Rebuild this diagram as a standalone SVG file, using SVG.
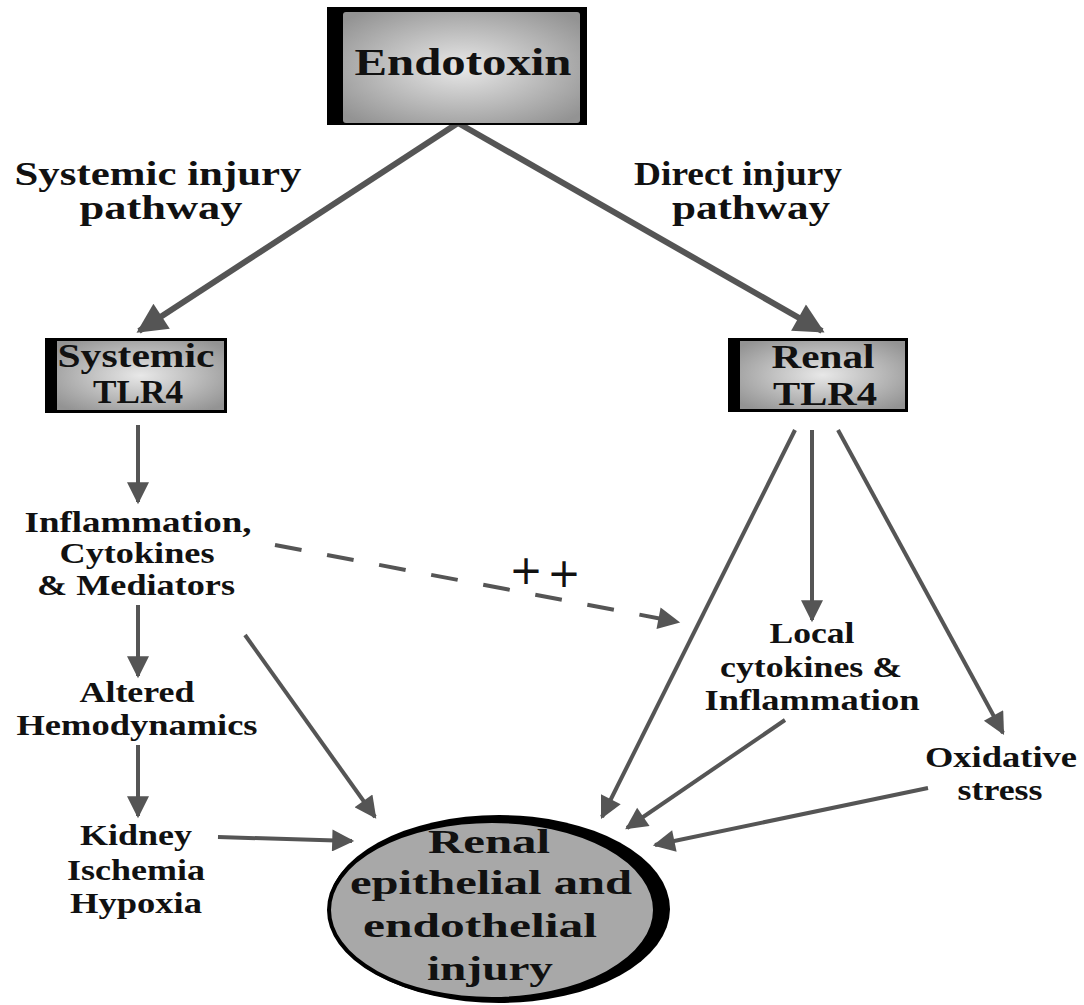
<svg xmlns="http://www.w3.org/2000/svg" width="1084" height="1005" viewBox="0 0 1084 1005">
<defs>
<radialGradient id="g" cx="50%" cy="50%" r="65%">
<stop offset="0" stop-color="#e8e8e8"/>
<stop offset="1" stop-color="#939393"/>
</radialGradient>
<marker id="ah" viewBox="0 0 10 10" refX="9" refY="5" markerWidth="5.5" markerHeight="5" orient="auto" markerUnits="strokeWidth">
<path d="M0,0 L10,5 L0,10 Z" fill="#555"/>
</marker>
<marker id="ah2" viewBox="0 0 10 10" refX="9" refY="5" markerWidth="6.5" markerHeight="5.5" orient="auto" markerUnits="strokeWidth">
<path d="M0,0 L10,5 L0,10 Z" fill="#555"/>
</marker>
</defs>
<style>
text{font-family:"Liberation Serif","Times New Roman",serif;font-weight:bold;fill:#111;text-anchor:middle}
.a{stroke:#555;stroke-width:4;fill:none;marker-end:url(#ah2)}
.b{stroke:#555;stroke-width:6;fill:none;marker-end:url(#ah)}
.lbl{font-size:33px}
.sm{font-size:29px}
.big{font-size:34px}
.plus{font-family:"DejaVu Sans",sans-serif;font-weight:normal;font-size:40px}
</style>
<rect width="1084" height="1005" fill="#fff"/>
<g id="connectors">
<line class="b" x1="458" y1="123" x2="139" y2="331"/>
<line class="b" x1="458" y1="123" x2="822" y2="331"/>
<line class="a" x1="138" y1="425" x2="138" y2="502"/>
<line class="a" x1="138" y1="605" x2="138" y2="676"/>
<line class="a" x1="138" y1="745" x2="138" y2="816"/>
<line class="a" x1="218" y1="837" x2="352" y2="841"/>
<line class="a" x1="245" y1="635" x2="375" y2="817"/>
<line x1="275" y1="545" x2="678" y2="622" stroke="#555" stroke-width="4" stroke-dasharray="27,26" marker-end="url(#ah2)"/>
<line class="a" x1="795" y1="430" x2="602" y2="817"/>
<line class="a" x1="812" y1="430" x2="812" y2="620"/>
<line class="a" x1="838" y1="430" x2="1003" y2="733"/>
<line class="a" x1="785" y1="720" x2="627" y2="828"/>
<line class="a" x1="928" y1="788" x2="655" y2="845"/>
</g>
<text class="plus" x="526" y="584">+</text>
<text class="plus" x="564" y="587">+</text>
<g id="endotoxin">
<rect x="327" y="7" width="260" height="118" fill="#000"/>
<rect x="343" y="12" width="237" height="111" rx="3" fill="url(#g)"/>
<text x="463" y="75" font-size="38" textLength="217" lengthAdjust="spacingAndGlyphs">Endotoxin</text>
</g>
<g id="systemic-label">
<text class="lbl" x="158" y="185" textLength="287" lengthAdjust="spacingAndGlyphs">Systemic injury</text>
<text class="lbl" x="161" y="219" textLength="163" lengthAdjust="spacingAndGlyphs">pathway</text>
</g>
<g id="direct-label">
<text class="lbl" x="738" y="185" textLength="208" lengthAdjust="spacingAndGlyphs">Direct injury</text>
<text class="lbl" x="751" y="219" textLength="158" lengthAdjust="spacingAndGlyphs">pathway</text>
</g>
<g id="systemic-tlr4">
<rect x="45" y="338" width="182" height="75" fill="#000"/>
<rect x="57" y="341" width="167" height="69" fill="url(#g)"/>
<text x="136" y="367" font-size="33" textLength="157" lengthAdjust="spacingAndGlyphs">Systemic</text>
<text x="138" y="403" font-size="33" textLength="90" lengthAdjust="spacingAndGlyphs">TLR4</text>
</g>
<g id="renal-tlr4">
<rect x="728" y="338" width="180" height="74" fill="#000"/>
<rect x="740" y="341" width="165" height="68" fill="url(#g)"/>
<text x="823" y="368" font-size="33" textLength="103" lengthAdjust="spacingAndGlyphs">Renal</text>
<text x="825" y="405" font-size="33" textLength="104" lengthAdjust="spacingAndGlyphs">TLR4</text>
</g>
<g id="inflammation">
<text class="sm" x="138" y="532" textLength="227" lengthAdjust="spacingAndGlyphs">Inflammation,</text>
<text class="sm" x="137" y="563" textLength="155" lengthAdjust="spacingAndGlyphs">Cytokines</text>
<text class="sm" x="136" y="595" textLength="198" lengthAdjust="spacingAndGlyphs">&amp; Mediators</text>
</g>
<g id="hemodynamics">
<text class="sm" x="137" y="702" textLength="115" lengthAdjust="spacingAndGlyphs">Altered</text>
<text class="sm" x="137" y="735" textLength="241" lengthAdjust="spacingAndGlyphs">Hemodynamics</text>
</g>
<g id="ischemia">
<text class="sm" x="136" y="845" textLength="112" lengthAdjust="spacingAndGlyphs">Kidney</text>
<text class="sm" x="136" y="880" textLength="138" lengthAdjust="spacingAndGlyphs">Ischemia</text>
<text class="sm" x="136" y="913" textLength="132" lengthAdjust="spacingAndGlyphs">Hypoxia</text>
</g>
<g id="local">
<text class="sm" x="812" y="643" textLength="85" lengthAdjust="spacingAndGlyphs">Local</text>
<text class="sm" x="811" y="677" textLength="182" lengthAdjust="spacingAndGlyphs">cytokines &amp;</text>
<text class="sm" x="812" y="710" textLength="215" lengthAdjust="spacingAndGlyphs">Inflammation</text>
</g>
<g id="oxidative">
<text class="sm" x="1001" y="767" textLength="152" lengthAdjust="spacingAndGlyphs">Oxidative</text>
<text class="sm" x="1000" y="800" textLength="85" lengthAdjust="spacingAndGlyphs">stress</text>
</g>
<g id="injury">
<ellipse cx="499" cy="909" rx="171" ry="94" fill="#000"/>
<ellipse cx="492" cy="910" rx="163" ry="89" fill="#a8a8a8" stroke="#000" stroke-width="4"/>
<text class="big" x="489" y="853" textLength="122" lengthAdjust="spacingAndGlyphs">Renal</text>
<text class="big" x="491" y="894" textLength="282" lengthAdjust="spacingAndGlyphs">epithelial and</text>
<text class="big" x="480" y="937" textLength="234" lengthAdjust="spacingAndGlyphs">endothelial</text>
<text class="big" x="490" y="980" textLength="126" lengthAdjust="spacingAndGlyphs">injury</text>
</g>
</svg>
